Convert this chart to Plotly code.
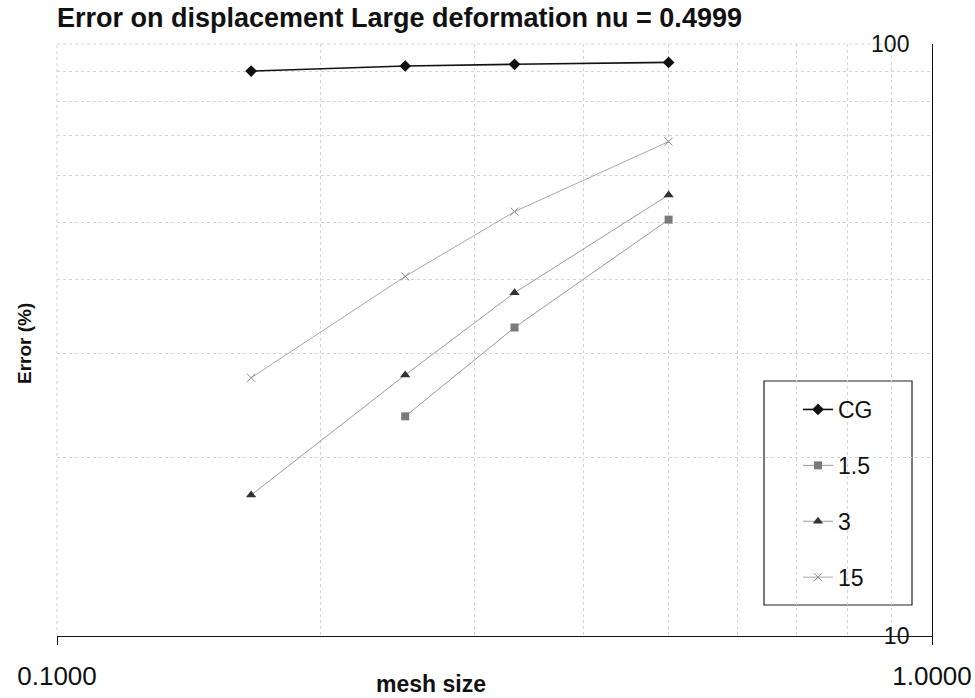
import plotly.graph_objects as go

# Mesh sizes (log axis) and relative displacement error in percent
mesh_size = [1/6, 1/4, 1/3, 1/2]
err_cg = [90.0, 91.8, 92.4, 93.1]
mesh_size_15 = [1/4, 1/3, 1/2]
err_1p5 = [23.5, 33.2, 50.5]
err_3 = [17.3, 27.6, 38.0, 55.6]
err_15 = [27.3, 40.5, 52.1, 68.4]

x_ticks = [0.1, 1.0]
x_tick_text = ["0.1000", "1.0000"]
x_minor = [0.2, 0.3, 0.4, 0.5, 0.6, 0.7, 0.8, 0.9]
y_ticks = [10, 100]
y_tick_text = ["10", "100"]
y_minor = [20, 30, 40, 50, 60, 70, 80, 90]

W, H = 975, 698
L, R, T, B = 57, 932, 44, 636  # plot area in pixels
FONT = "Arial, Liberation Sans, sans-serif"
GRID = "#d4d4d4"


def px_x(p):
    return (p - L) / (R - L)


def px_y(p):
    return (B - p) / (B - T)


fig = go.Figure()
fig.add_trace(go.Scatter(
    x=mesh_size, y=err_cg, name="CG", mode="lines+markers", legendgroup="a",
    line=dict(color="#111111", width=1.6),
    marker=dict(symbol="diamond", size=9, color="#111111")))
fig.add_trace(go.Scatter(
    x=mesh_size_15, y=err_1p5, name="1.5", mode="lines+markers", legendgroup="b",
    line=dict(color="#9a9a9a", width=1),
    marker=dict(symbol="square", size=8, color="#7a7a7a")))
fig.add_trace(go.Scatter(
    x=mesh_size, y=err_3, name="3", mode="lines+markers", legendgroup="c",
    line=dict(color="#9a9a9a", width=1),
    marker=dict(symbol="triangle-up", size=9, color="#333333")))
fig.add_trace(go.Scatter(
    x=mesh_size, y=err_15, name="15", mode="lines+markers", legendgroup="d",
    line=dict(color="#a8a8a8", width=1),
    marker=dict(symbol="x-thin", size=8, color="#888888",
                line=dict(color="#888888", width=1))))

grid = dict(gridcolor=GRID, griddash="dot", gridwidth=1)

fig.update_xaxes(
    type="log", range=[-1, 0],
    tickvals=x_ticks, ticktext=x_tick_text,
    ticks="outside", ticklen=8, tickcolor="#111111",
    tickfont=dict(family=FONT, size=26, color="#111111"),
    ticklabelstandoff=9,
    showline=True, linecolor="#111111", linewidth=1.3,
    showgrid=True, **grid,
    minor=dict(tickvals=x_minor, showgrid=True, ticks="", **grid),
    zeroline=False)
fig.update_yaxes(
    type="log", range=[1, 2], side="right",
    tickvals=y_ticks, ticktext=y_tick_text,
    ticks="inside", ticklen=24, tickcolor="#111111",
    ticklabelposition="inside", ticklabeloverflow="allow",
    tickfont=dict(family=FONT, size=23, color="#111111"),
    showline=True, linecolor="#111111", linewidth=1.3,
    showgrid=True, **grid,
    minor=dict(tickvals=y_minor, showgrid=True, ticks="", **grid),
    zeroline=False)

# Dotted frame edges on the left and top of the plotting area
fig.add_shape(type="line", xref="paper", yref="paper", x0=0, x1=0, y0=0, y1=1,
              line=dict(color=GRID, width=1, dash="dot"), layer="below")
fig.add_shape(type="line", xref="paper", yref="paper", x0=0, x1=px_x(905), y0=1, y1=1,
              line=dict(color=GRID, width=1, dash="dot"), layer="below")

# Legend frame
fig.add_shape(type="rect", xref="paper", yref="paper",
              x0=px_x(764), x1=px_x(912), y0=px_y(605), y1=px_y(381),
              line=dict(color="#222222", width=1.2), fillcolor="white", layer="below")

fig.add_annotation(text="<b>mesh size</b>", xref="paper", yref="paper",
                   x=px_x(431), y=px_y(684), xanchor="center", yanchor="middle",
                   showarrow=False,
                   font=dict(family=FONT, size=23, color="#111111"))
fig.add_annotation(text="<b>Error (%)</b>", xref="paper", yref="paper",
                   x=px_x(24), y=px_y(344), xanchor="center", yanchor="middle",
                   showarrow=False, textangle=-90,
                   font=dict(family=FONT, size=19, color="#111111"))

fig.update_layout(
    width=W, height=H,
    margin=dict(l=L, r=W - R, t=T, b=H - B, autoexpand=False),
    paper_bgcolor="white", plot_bgcolor="white",
    title=dict(text="<b>Error on displacement Large deformation nu = 0.4999</b>",
               x=L / W, xanchor="left", xref="container",
               y=1 - 18 / H, yanchor="middle", yref="container",
               font=dict(family=FONT, size=27, color="#111111")),
    showlegend=True,
    legend=dict(x=px_x(798), xref="paper", xanchor="left",
                y=px_y(388), yref="paper", yanchor="top",
                traceorder="grouped", tracegroupgap=23,
                bgcolor="rgba(0,0,0,0)", borderwidth=0,
                font=dict(family=FONT, size=23, color="#111111")),
)

fig.write_html("out.html")
